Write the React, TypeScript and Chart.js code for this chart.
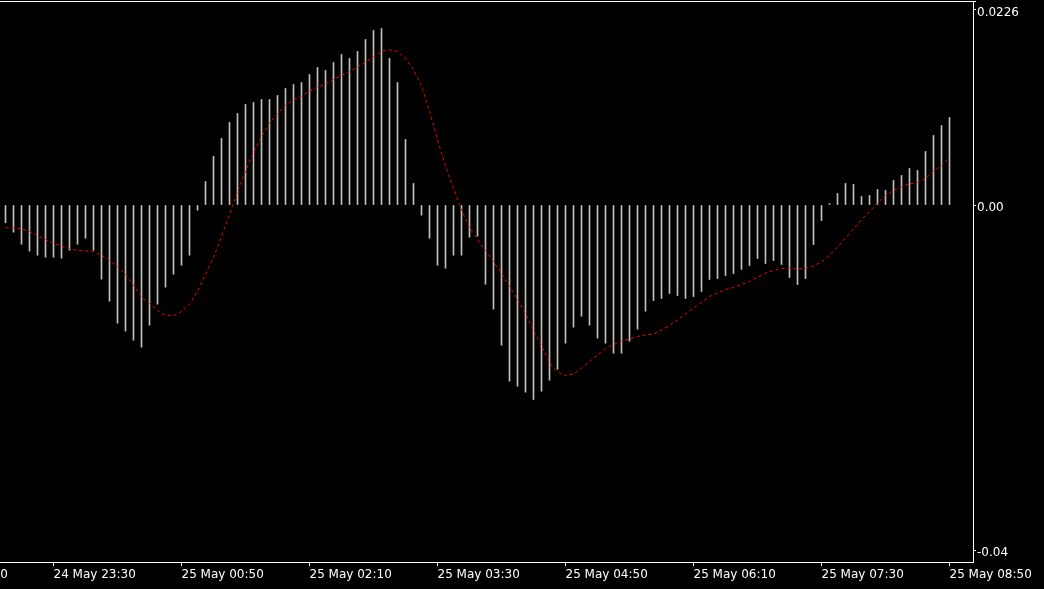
import React, { useEffect, useRef } from "react";
import { Chart, registerables } from "chart.js";

Chart.register(...registerables);

// 5-minute bars, first bar = 24 May 23:00, last bar = 25 May 08:50
const histogram: number[] = [
  -0.00206, -0.00315, -0.00454, -0.00535, -0.00582, -0.00605, -0.00605, -0.00616, -0.00524, -0.00454,
  -0.00385, -0.00524, -0.0086, -0.01115, -0.0137, -0.01462, -0.01567, -0.01648, -0.01393, -0.01149,
  -0.00952, -0.00802, -0.00698, -0.00582, -0.0006, 0.00272, 0.00565, 0.00771, 0.00956, 0.0106,
  0.01165, 0.01188, 0.01222, 0.01222, 0.01269, 0.0135, 0.01396, 0.01419, 0.01512, 0.01593,
  0.01559, 0.01651, 0.01744, 0.01698, 0.01779, 0.01918, 0.02022, 0.02045, 0.01698, 0.01419,
  0.00759, 0.00249, -0.00118, -0.00385, -0.00698, -0.00732, -0.00582, -0.00582, -0.00373, -0.00362,
  -0.00918, -0.01207, -0.01625, -0.02042, -0.021, -0.02169, -0.02254, -0.02158, -0.0203, -0.01903,
  -0.01601, -0.01416, -0.01289, -0.01393, -0.01543, -0.01601, -0.01717, -0.01717, -0.01578, -0.01439,
  -0.01231, -0.01107, -0.01083, -0.01025, -0.01049, -0.01083, -0.0106, -0.01002, -0.00863, -0.00852,
  -0.00817, -0.00794, -0.00747, -0.00701, -0.0062, -0.00678, -0.00643, -0.00689, -0.0084, -0.00921,
  -0.00852, -0.00458, -0.0018, 0.00017, 0.00133, 0.00249, 0.00238, 0.00098, 0.0011, 0.0018,
  0.00168, 0.00284, 0.00342, 0.00423, 0.004, 0.0062, 0.00805, 0.00921, 0.01014,
];

const signal: number[] = [
  -0.00264, -0.00264, -0.00276, -0.00307, -0.00353, -0.004, -0.00443, -0.00477, -0.00504, -0.00527,
  -0.00531, -0.00539, -0.00582, -0.0064, -0.00716, -0.00805, -0.00933, -0.01064, -0.01141, -0.01219,
  -0.0128, -0.0128, -0.01234, -0.01153, -0.01002, -0.00805, -0.00608, -0.00365, -0.0011, 0.00156,
  0.00392, 0.00608, 0.00794, 0.0095, 0.01057, 0.01153, 0.01219, 0.01261, 0.01319, 0.01365,
  0.01404, 0.01454, 0.01501, 0.01543, 0.01601, 0.01655, 0.01717, 0.01782, 0.01798, 0.01779,
  0.01698, 0.0157, 0.01377, 0.01087, 0.00759, 0.0045, 0.00191, -0.00058, -0.00261, -0.004,
  -0.00527, -0.00655, -0.00794, -0.00944, -0.01095, -0.01257, -0.01454, -0.01628, -0.01825, -0.01935,
  -0.01976, -0.01958, -0.01895, -0.01813, -0.01738, -0.01669, -0.01616, -0.01582, -0.01553, -0.01524,
  -0.01506, -0.01495, -0.01448, -0.01396, -0.01333, -0.01263, -0.01194, -0.0113, -0.0106, -0.0102,
  -0.00979, -0.00956, -0.00921, -0.00886, -0.0084, -0.00788, -0.00759, -0.00736, -0.0073, -0.00742,
  -0.00736, -0.00707, -0.0066, -0.00585, -0.00487, -0.00382, -0.00278, -0.00168, -0.00075, 0.00023,
  0.0011, 0.00168, 0.00211, 0.00246, 0.00261, 0.00304, 0.00392, 0.00458, 0.0055,
];

// x tick positions are bar indices (bar 0 = 24 May 23:00)
const xTickIndex: number[] = [-10, 6, 22, 38, 54, 70, 86, 102, 118];
const xTickLabels: string[] = [
  "24 May 22:10",
  "24 May 23:30",
  "25 May 00:50",
  "25 May 02:10",
  "25 May 03:30",
  "25 May 04:50",
  "25 May 06:10",
  "25 May 07:30",
  "25 May 08:50",
];

const yTickValues: number[] = [0.0226, 0, -0.04];
const yTickLabels: string[] = ["0.0226", "0.00", "-0.04"];

const FONT = { family: "'DejaVu Sans', sans-serif", size: 12 };

const framePlugin = {
  id: "frameTop",
  afterDraw(chart: any) {
    const { ctx, chartArea } = chart;
    ctx.save();
    ctx.strokeStyle = "#ffffff";
    ctx.lineWidth = 1;
    ctx.beginPath();
    ctx.moveTo(chartArea.left, Math.round(chartArea.top) + 0.5);
    ctx.lineTo(chartArea.right + 3, Math.round(chartArea.top) + 0.5);
    ctx.stroke();
    ctx.restore();
  },
};

export default function App() {
  const canvasRef = useRef<HTMLCanvasElement | null>(null);

  useEffect(() => {
    document.body.style.margin = "0";
    document.body.style.background = "#000";
    const canvas = canvasRef.current;
    if (!canvas) return;

    const barData = histogram.map((v, i) => ({ x: i, y: v }));
    const lineData = signal.map((v, i) => ({ x: i, y: v }));

    const chart = new Chart(canvas, {
      type: "bar",
      data: {
        datasets: [
          {
            type: "line",
            label: "Signal",
            data: lineData,
            borderColor: "#ff0000",
            borderWidth: 1,
            borderDash: [3, 3],
            pointRadius: 0,
            fill: false,
            tension: 0,
            order: 0,
          } as any,
          {
            type: "bar",
            label: "MACD",
            data: barData,
            backgroundColor: "#c0c0c0",
            borderWidth: 0,
            barThickness: 1,
            order: 1,
          } as any,
        ],
      },
      options: {
        animation: false,
        responsive: false,
        devicePixelRatio: 1,
        layout: { padding: { top: 1, left: 0, right: 0, bottom: 0 } },
        plugins: {
          legend: { display: false },
          tooltip: { enabled: false },
        },
        scales: {
          x: {
            type: "linear",
            position: "bottom",
            offset: false,
            bounds: "data",
            min: -0.6875,
            max: 120.9375,
            afterBuildTicks: (scale: any) => {
              scale.ticks = xTickIndex.map((v) => ({ value: v }));
            },
            afterFit: (scale: any) => {
              scale.height = 27;
              scale.paddingLeft = 0;
              scale.paddingRight = 0;
            },
            ticks: {
              autoSkip: false,
              maxRotation: 0,
              minRotation: 0,
              align: "start",
              color: "#ffffff",
              font: FONT,
              padding: 2,
              callback: (_v: any, i: number) => xTickLabels[i],
            },
            grid: {
              display: true,
              offset: false,
              drawOnChartArea: false,
              drawTicks: true,
              tickLength: 4,
              color: "#ffffff",
            },
            border: { display: true, color: "#ffffff", width: 1 },
          },
          y: {
            type: "linear",
            position: "right",
            min: -0.04137,
            max: 0.02364,
            afterBuildTicks: (scale: any) => {
              scale.ticks = yTickValues.map((v) => ({ value: v }));
            },
            afterFit: (scale: any) => {
              scale.width = 71;
              scale.paddingTop = 0;
              scale.paddingBottom = 0;
            },
            ticks: {
              color: "#ffffff",
              font: FONT,
              padding: 1,
              labelOffset: 3,
              callback: (_v: any, i: number) => yTickLabels[i],
            },
            grid: {
              display: true,
              drawOnChartArea: false,
              drawTicks: true,
              tickLength: 3,
              color: "#ffffff",
            },
            border: { display: true, color: "#ffffff", width: 1 },
          },
        },
      } as any,
      plugins: [framePlugin],
    });

    return () => {
      chart.destroy();
    };
  }, []);

  return (
    <div
      style={{
        position: "fixed",
        left: 0,
        top: 0,
        width: 1044,
        height: 589,
        background: "#000000",
      }}
    >
      <canvas ref={canvasRef} width={1044} height={589} style={{ display: "block" }} />
    </div>
  );
}
